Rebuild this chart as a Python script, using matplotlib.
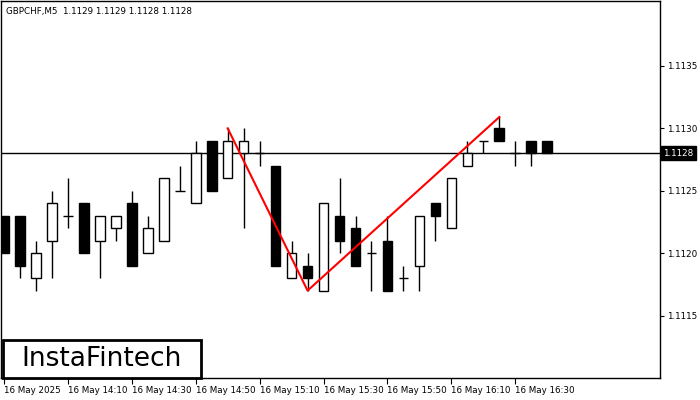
import matplotlib
matplotlib.use("Agg")
import matplotlib.pyplot as plt
from matplotlib.patches import Rectangle

opens  = [11123,11123,11118,11121,11123,11124,11121,11122,11124,11120,11121,11125,11124,11129,11126,11128,11128,11127,11118,11119,11117,11123,11122,11120,11121,11118,11119,11124,11122,11127,11129,11130,11128,11129,11129]
closes = [11120,11119,11120,11124,11123,11120,11123,11123,11119,11122,11126,11125,11128,11125,11129,11129,11128,11119,11120,11118,11124,11121,11119,11120,11117,11118,11123,11123,11126,11128,11129,11129,11128,11128,11128]
highs  = [11123,11123,11121,11125,11126,11124,11123,11123,11125,11123,11126,11127,11129,11129,11130,11130,11129,11127,11121,11120,11124,11126,11123,11121,11123,11119,11123,11124,11126,11129,11129,11131,11129,11129,11129]
lows   = [11120,11118,11117,11118,11122,11120,11118,11121,11119,11120,11121,11125,11124,11125,11126,11122,11127,11119,11118,11117,11117,11120,11119,11117,11117,11117,11117,11121,11122,11127,11128,11129,11127,11127,11128]
xtick_pos = [0,4,8,12,16,20,24,28,32]
xtick_labels = ["16 May 2025","16 May 14:10","16 May 14:30","16 May 14:50","16 May 15:10","16 May 15:30","16 May 15:50","16 May 16:10","16 May 16:30"]
ytick_vals = [1.1115,1.1120,1.1125,1.1130,1.1135]
pattern_x = [14,19,31]
pattern_y = [1.1130,1.1117,1.11309]
current = 1.1128

sc = 1e-4
fig = plt.figure(figsize=(7,4), dpi=100)
ax = fig.add_axes([1/700, 22/400, 659/700, 377/400])
w = 0.6
for i,(o,c,h,l) in enumerate(zip(opens,closes,highs,lows)):
    o,c,h,l = o*sc,c*sc,h*sc,l*sc
    ax.vlines(i, l, h, color="black", lw=1, zorder=2)
    if o == c:
        ax.hlines(o, i-w/2, i+w/2, color="black", lw=1, zorder=3)
    else:
        fc = "white" if c > o else "black"
        ax.add_patch(Rectangle((i-w/2, min(o,c)), w, abs(c-o), facecolor=fc, edgecolor="black", lw=1, zorder=3))
ax.axhline(current, color="black", lw=1, zorder=1)
ax.plot(pattern_x, pattern_y, color="red", lw=1.5, zorder=4)
ax.set_xlim(-0.19, 41.06)
ax.set_ylim(1.11100, 1.11402)
ax.yaxis.tick_right()
ax.set_yticks(ytick_vals)
ax.set_yticklabels([f"{v:.4f}" for v in ytick_vals], fontsize=6.3)
ax.set_xticks(xtick_pos)
ax.set_xticklabels(xtick_labels, fontsize=6.3, ha="left")
ax.tick_params(axis="x", length=4, pad=2)
ax.tick_params(axis="y", length=3, pad=2)
for s in ax.spines.values():
    s.set_linewidth(1)
ax.text(0.3/41, 0.985, "GBPCHF,M5  1.1129 1.1129 1.1128 1.1128", transform=ax.transAxes, fontsize=6.3, va="top", ha="left")
ax.text(1.005, current, "1.1128", transform=ax.get_yaxis_transform(), fontsize=6.3, color="white", va="center", ha="left",
        bbox=dict(boxstyle="square,pad=0.3", facecolor="black", edgecolor="black"))
fig.patches.append(Rectangle((3/700, 22/400), 198/700, 38/400, transform=fig.transFigure, facecolor="white", edgecolor="black", lw=2, zorder=10))
fig.text(102/700, 41/400, "InstaFintech", fontsize=19, ha="center", va="center", zorder=11)
fig.savefig("out.png", dpi=100)
